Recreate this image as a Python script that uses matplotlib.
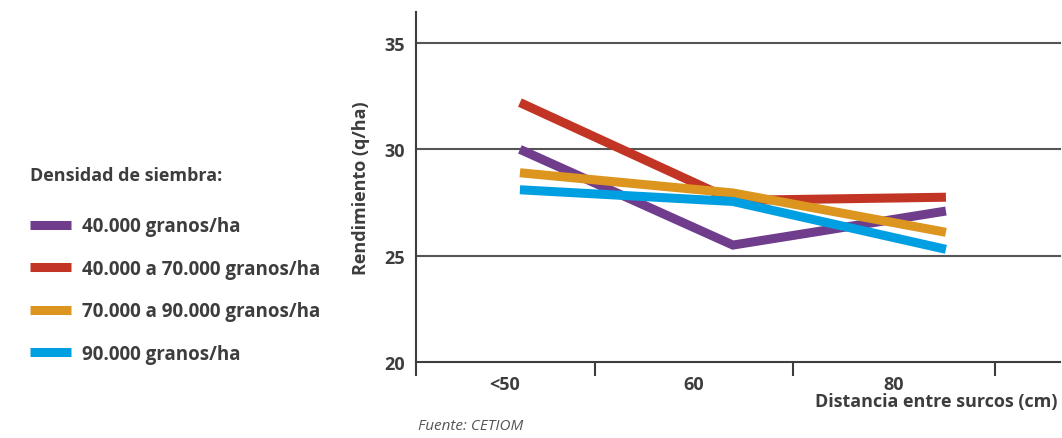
import matplotlib.pyplot as plt
from matplotlib.ticker import FixedLocator

# Rendimiento segun distancia entre surcos y densidad de siembra
categorias = ['<50', '60', '80']
series = ['40.000 granos/ha', '40.000 a 70.000 granos/ha',
          '70.000 a 90.000 granos/ha', '90.000 granos/ha']
rend_40 = [30.0, 25.5, 27.1]
rend_40_70 = [32.2, 27.6, 27.75]
rend_70_90 = [28.9, 27.95, 26.1]
rend_90 = [28.1, 27.55, 25.3]
colores = ['#6f3d8b', '#c23424', '#dc961f', '#009fe1']

gris = '#3d3d3d'
plt.rcParams['font.family'] = ['Open Sans', 'DejaVu Sans']
plt.rcParams['font.weight'] = 'bold'
plt.rcParams['axes.labelweight'] = 'bold'

fig = plt.figure(figsize=(10.62, 4.39), dpi=100)
ax = fig.add_axes([0.3917, 0.173, 0.6063, 0.797])

x = [0, 1, 2]
for vals, nombre, c in zip([rend_40, rend_40_70, rend_70_90, rend_90], series, colores):
    ax.plot(x, vals, color=c, lw=6.5, solid_capstyle='butt', solid_joinstyle='miter', label=nombre)

ax.set_xlim(-0.488, 2.535)
ax.set_ylim(20, 36.45)

# lineas de referencia
for v in [25, 30, 35]:
    ax.axhline(v, color='#555555', lw=1.5, zorder=0, clip_on=False)

ax.set_yticks([20, 25, 30, 35])
ax.tick_params(axis='y', length=0, pad=8, labelsize=13, labelcolor=gris)

# etiquetas entre divisiones
ax.xaxis.set_major_locator(FixedLocator([-0.07, 0.817, 1.756]))
ax.set_xticklabels(categorias)
ax.xaxis.set_minor_locator(FixedLocator([-0.488, 0.352, 1.282, 2.23]))
ax.tick_params(axis='x', which='major', length=0, pad=9, labelsize=13, labelcolor=gris)
ax.tick_params(axis='x', which='minor', length=10, width=1.5, color=gris, direction='out')

for s in ['top', 'right']:
    ax.spines[s].set_visible(False)
for s in ['left', 'bottom']:
    ax.spines[s].set_color(gris)
    ax.spines[s].set_linewidth(1.5)

ax.set_ylabel('Rendimiento (q/ha)', fontsize=13, color=gris, labelpad=10)
ax.set_xlabel('Distancia entre surcos (cm)', fontsize=13, color=gris, ha='right', va='center')
ax.xaxis.set_label_coords(0.997, -0.112)

fig.text(0.3936, 0.02, 'Fuente: CETIOM', fontsize=11, style='italic', weight='normal', color='#555555')

leg = fig.legend(loc='upper left', bbox_to_anchor=(0.012, 0.657), frameon=False,
                 title='Densidad de siembra:', alignment='left', fontsize=13.5,
                 title_fontproperties={'size': 13, 'weight': 'bold'},
                 handlelength=2.2, handletextpad=0.6, labelspacing=1.2)
for t in leg.get_texts():
    t.set_color(gris)
leg.get_title().set_color(gris)
leg._legend_box.sep = 23

fig.savefig('out.png', dpi=100)
